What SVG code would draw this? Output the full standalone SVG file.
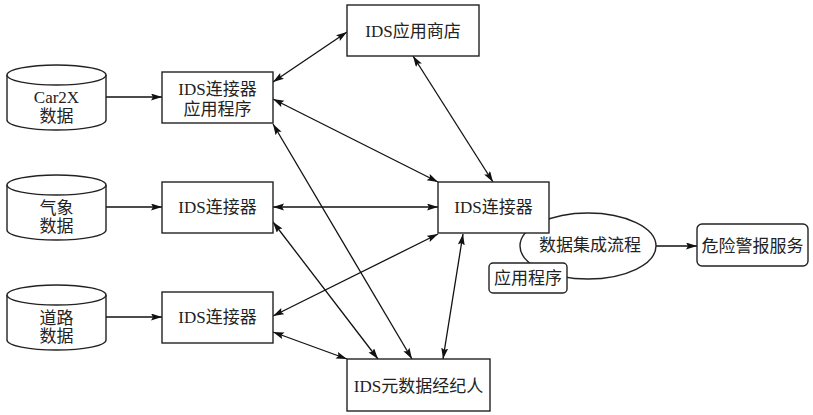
<svg xmlns="http://www.w3.org/2000/svg" width="813" height="415" viewBox="0 0 813 415">
<style>
.s{fill:#fff;stroke:#222;stroke-width:1.4}
svg text.t{font-family:'Liberation Serif','Noto Sans CJK SC',serif !important;font-size:17px;fill:#222;text-anchor:middle}
.c{fill:none;stroke:#111;stroke-width:1.3}
</style>
<defs>
<marker id="a" markerUnits="userSpaceOnUse" markerWidth="12" markerHeight="8" refX="11" refY="3.5" orient="auto-start-reverse">
<path d="M0,0 L11,3.5 L0,7 L2,3.5 z" fill="#111"/>
</marker>
</defs>
<rect width="813" height="415" fill="#fff"/>

<g id="connectors">
<line class="c" x1="106" y1="97" x2="162" y2="97" marker-end="url(#a)"/>
<line class="c" x1="106" y1="207" x2="162" y2="207" marker-end="url(#a)"/>
<line class="c" x1="106" y1="317" x2="162" y2="317" marker-end="url(#a)"/>
<line class="c" x1="273" y1="82" x2="347" y2="32" marker-start="url(#a)" marker-end="url(#a)"/>
<line class="c" x1="413" y1="56" x2="493" y2="182" marker-start="url(#a)" marker-end="url(#a)"/>
<line class="c" x1="273" y1="99" x2="438" y2="182" marker-start="url(#a)" marker-end="url(#a)"/>
<line class="c" x1="273" y1="207" x2="438" y2="207" marker-start="url(#a)" marker-end="url(#a)"/>
<line class="c" x1="273" y1="316" x2="438" y2="234" marker-start="url(#a)" marker-end="url(#a)"/>
<line class="c" x1="273" y1="124" x2="412" y2="359" marker-start="url(#a)" marker-end="url(#a)"/>
<line class="c" x1="273" y1="222" x2="378" y2="359" marker-start="url(#a)" marker-end="url(#a)"/>
<line class="c" x1="273" y1="332" x2="347" y2="359" marker-start="url(#a)" marker-end="url(#a)"/>
<line class="c" x1="463" y1="234" x2="443" y2="359" marker-start="url(#a)" marker-end="url(#a)"/>
<line class="c" x1="656" y1="246" x2="697" y2="246" marker-end="url(#a)"/>
</g>

<g id="car2x">
<path class="s" d="M7,75 a49.5,10 0 0 1 99,0 v45 a49.5,10 0 0 1 -99,0 z"/>
<path class="s" d="M7,75 a49.5,10 0 0 0 99,0" fill="none"/>
<text class="t" x="56.5" y="103" style="font-family:'Liberation Serif','Noto Sans CJK SC',serif">Car2X</text>
<text class="t" x="56.5" y="122" style="font-family:'Liberation Serif','Noto Sans CJK SC',serif">数据</text>
</g>
<g id="weather">
<path class="s" d="M7,185 a49.5,10 0 0 1 99,0 v45 a49.5,10 0 0 1 -99,0 z"/>
<path class="s" d="M7,185 a49.5,10 0 0 0 99,0" fill="none"/>
<text class="t" x="56.5" y="214" style="font-family:'Liberation Serif','Noto Sans CJK SC',serif">气象</text>
<text class="t" x="56.5" y="232" style="font-family:'Liberation Serif','Noto Sans CJK SC',serif">数据</text>
</g>
<g id="road">
<path class="s" d="M7,295 a49.5,10 0 0 1 99,0 v45 a49.5,10 0 0 1 -99,0 z"/>
<path class="s" d="M7,295 a49.5,10 0 0 0 99,0" fill="none"/>
<text class="t" x="56.5" y="324" style="font-family:'Liberation Serif','Noto Sans CJK SC',serif">道路</text>
<text class="t" x="56.5" y="342" style="font-family:'Liberation Serif','Noto Sans CJK SC',serif">数据</text>
</g>

<g id="conn-app">
<rect class="s" x="162" y="72" width="111" height="51"/>
<text class="t" x="217.5" y="95" style="font-family:'Liberation Serif','Noto Sans CJK SC',serif">IDS连接器</text>
<text class="t" x="217.5" y="115" style="font-family:'Liberation Serif','Noto Sans CJK SC',serif">应用程序</text>
</g>
<g id="conn-weather">
<rect class="s" x="162" y="182" width="111" height="51"/>
<text class="t" x="217.5" y="213" style="font-family:'Liberation Serif','Noto Sans CJK SC',serif">IDS连接器</text>
</g>
<g id="conn-road">
<rect class="s" x="162" y="292" width="111" height="51"/>
<text class="t" x="217.5" y="323" style="font-family:'Liberation Serif','Noto Sans CJK SC',serif">IDS连接器</text>
</g>
<g id="appstore">
<rect class="s" x="347" y="5" width="132" height="51"/>
<text class="t" x="413" y="37" style="font-family:'Liberation Serif','Noto Sans CJK SC',serif">IDS应用商店</text>
</g>
<g id="process">
<ellipse class="s" cx="588" cy="246" rx="68" ry="33"/>
<text class="t" x="590" y="251" style="font-family:'Liberation Serif','Noto Sans CJK SC',serif">数据集成流程</text>
</g>
<g id="conn-center">
<rect class="s" x="438" y="182" width="111" height="51"/>
<text class="t" x="493.5" y="213" style="font-family:'Liberation Serif','Noto Sans CJK SC',serif">IDS连接器</text>
</g>
<g id="app">
<rect class="s" x="489" y="263" width="78" height="30" rx="4"/>
<text class="t" x="528" y="284" style="font-family:'Liberation Serif','Noto Sans CJK SC',serif">应用程序</text>
</g>
<g id="warning">
<rect class="s" x="697" y="224" width="111" height="42" rx="5"/>
<text class="t" x="752.5" y="252" style="font-family:'Liberation Serif','Noto Sans CJK SC',serif">危险警报服务</text>
</g>
<g id="broker">
<rect class="s" x="347" y="359" width="143" height="52"/>
<text class="t" x="418.5" y="392" style="font-family:'Liberation Serif','Noto Sans CJK SC',serif">IDS元数据经纪人</text>
</g>
</svg>
